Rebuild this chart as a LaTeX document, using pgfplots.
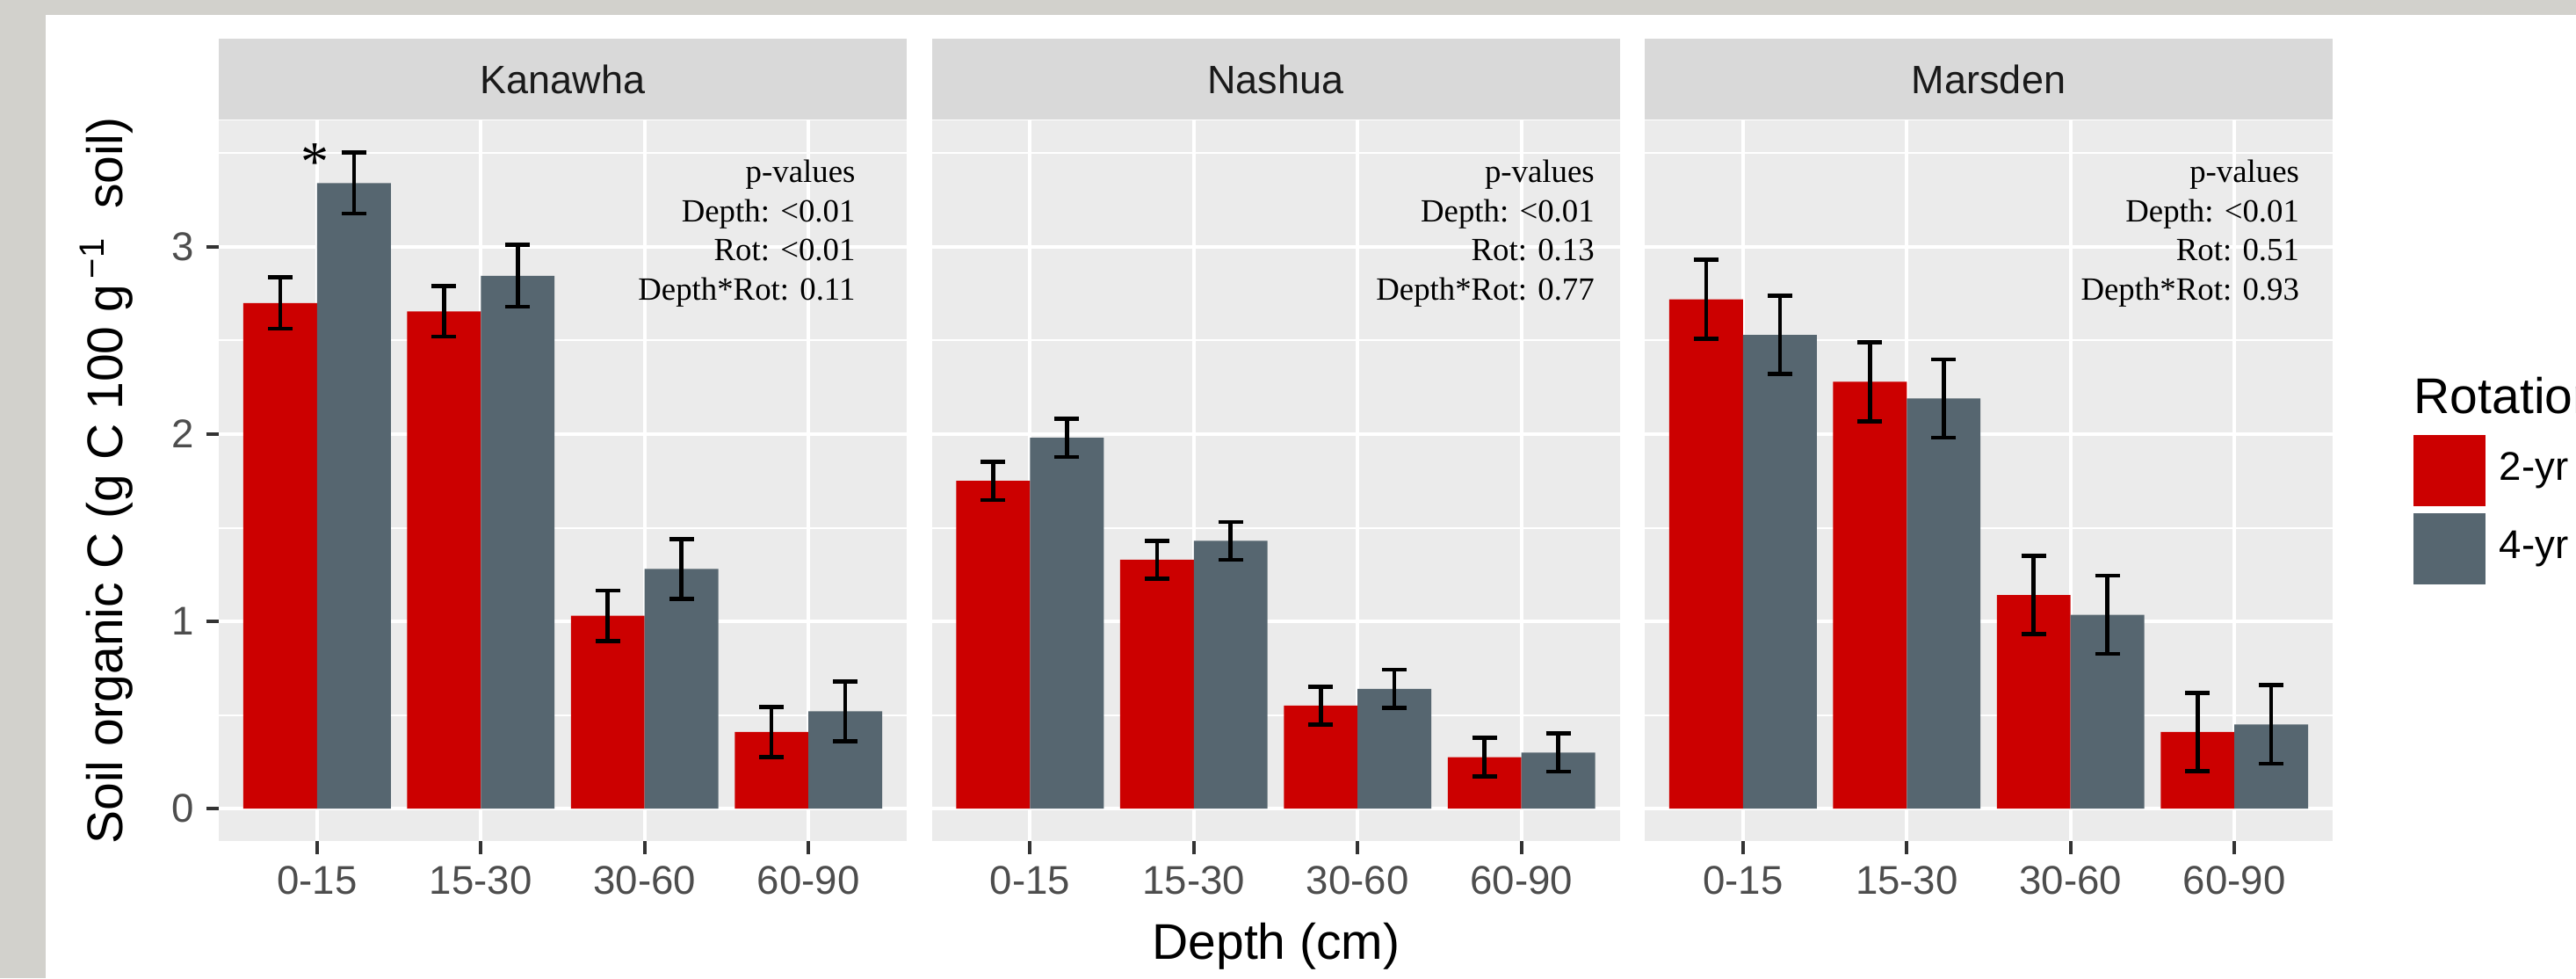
\documentclass[border=0pt]{standalone}
\usepackage{fontspec}
\setmainfont{Liberation Sans}
\newfontfamily\timesfont{Liberation Serif}
\usepackage{pgfplots}
\usepackage{pgfplotstable}
\pgfplotsset{compat=1.18}

\definecolor{outerbg}{RGB}{210,209,204}
\definecolor{panelbg}{RGB}{235,235,235}
\definecolor{stripbg}{RGB}{217,217,217}
\definecolor{redtwo}{RGB}{204,0,0}
\definecolor{grayfour}{RGB}{86,102,112}
\definecolor{tickgray}{RGB}{51,51,51}
\definecolor{labgray}{RGB}{77,77,77}
\definecolor{striptext}{RGB}{26,26,26}

\pgfplotstableread{
d y2 e2 y4 e4
1 2.700 0.137 3.340 0.163
2 2.655 0.135 2.845 0.165
3 1.030 0.135 1.280 0.160
4 0.410 0.134 0.520 0.160
}\kanawha
\pgfplotstableread{
d y2 e2 y4 e4
1 1.750 0.103 1.980 0.102
2 1.330 0.101 1.430 0.101
3 0.550 0.102 0.640 0.102
4 0.275 0.103 0.300 0.102
}\nashua
\pgfplotstableread{
d y2 e2 y4 e4
1 2.720 0.210 2.530 0.210
2 2.280 0.211 2.190 0.209
3 1.140 0.209 1.035 0.209
4 0.410 0.209 0.450 0.209
}\marsden

\pgfplotsset{
  panel/.style={
    scale only axis, width=195.75pt, height=205.125pt,
    anchor=south west, clip=false,
    xmin=0.4, xmax=4.6, ymin=-0.175, ymax=3.675,
    axis background/.style={fill=panelbg},
    axis line style={draw=none},
    xtick={1,2,3,4}, xticklabels={0-15,15-30,30-60,60-90},
    ytick={0,1,2,3}, yticklabels={0,1,2,3},
    minor ytick={0.5,1.5,2.5,3.5},
    xmajorgrids, ymajorgrids, yminorgrids,
    major grid style={white, line width=1.05pt},
    minor grid style={white, line width=0.5pt},
    tick align=outside, xtick pos=left, ytick pos=left,
    major tick length=3.6pt, minor tick length=0pt,
    tick style={tickgray, line width=1pt},
    /pgf/number format/assume math mode=true,
    ticklabel style={font=\fontsize{11.4}{13.7}\selectfont, text=labgray},
  },
  bars/.style={ybar, bar width=0.45, bar shift=0pt, draw=none,
    error bars/y dir=both, error bars/y explicit,
    error bars/error bar style={line width=1.15pt, draw=black},
    error bars/error mark options={rotate=90, line width=1.15pt, mark size=3.5pt, draw=black}},
}

\newcommand{\strip}[1]{\node[anchor=south, fill=stripbg, minimum width=195.75pt, minimum height=23pt, inner sep=0pt, text=striptext, font=\fontsize{11.25}{13.5}\selectfont] at (rel axis cs:0.5,1) {#1};}
\newcommand{\pvals}[3]{%
  \node[anchor=base east, inner sep=0pt, font=\timesfont\fontsize{9.2}{11}\selectfont] at (axis cs:#1,3.344) {p-values};
  \node[anchor=base east, inner sep=0pt, font=\timesfont\fontsize{9.2}{11}\selectfont] at (axis cs:#1,3.133) {Depth: <0.01};
  \node[anchor=base east, inner sep=0pt, font=\timesfont\fontsize{9.2}{11}\selectfont] at (axis cs:#1,2.927) {Rot: #2};
  \node[anchor=base east, inner sep=0pt, font=\timesfont\fontsize{9.2}{11}\selectfont] at (axis cs:#1,2.717) {Depth*Rot: #3};}

\begin{document}
\begin{tikzpicture}
\fill[outerbg] (0,0) rectangle (733pt,278.25pt);
\fill[white] (13pt,0) rectangle (733pt,274pt);

% Kanawha
\begin{axis}[panel, at={(62.25pt,38.875pt)}]
\addplot[bars, fill=redtwo] table[x expr=\thisrow{d}-0.225, y=y2, y error=e2] {\kanawha};
\addplot[bars, fill=grayfour] table[x expr=\thisrow{d}+0.225, y=y4, y error=e4] {\kanawha};
\strip{Kanawha}
\pvals{4.29}{<0.01}{0.11}
\node[font=\timesfont\fontsize{16}{18}\selectfont, inner sep=0pt] at (axis cs:0.985,3.45) {*};
\end{axis}

% Nashua
\begin{axis}[panel, at={(265.125pt,38.875pt)}, yticklabels={}, every major y tick/.append style={draw=none}]
\addplot[bars, fill=redtwo] table[x expr=\thisrow{d}-0.225, y=y2, y error=e2] {\nashua};
\addplot[bars, fill=grayfour] table[x expr=\thisrow{d}+0.225, y=y4, y error=e4] {\nashua};
\strip{Nashua}
\pvals{4.45}{0.13}{0.77}
\end{axis}

% Marsden
\begin{axis}[panel, at={(468pt,38.875pt)}, yticklabels={}, every major y tick/.append style={draw=none}]
\addplot[bars, fill=redtwo] table[x expr=\thisrow{d}-0.225, y=y2, y error=e2] {\marsden};
\addplot[bars, fill=grayfour] table[x expr=\thisrow{d}+0.225, y=y4, y error=e4] {\marsden};
\strip{Marsden}
\pvals{4.40}{0.51}{0.93}
\end{axis}

% axis titles
\node[rotate=90, inner sep=0pt, font=\fontsize{14.25}{17}\selectfont] at (30.25pt,141.5pt) {Soil organic C (g C 100 g\textsuperscript{\,−1}\ \ soil)};
\node[inner sep=0pt, font=\fontsize{14.25}{17}\selectfont] at (363.1pt,9pt) {Depth (cm)};

% legend
\node[overlay, anchor=base west, font=\fontsize{14.25}{17}\selectfont, inner sep=0pt] at (686.75pt,160.5pt) {Rotation};
\fill[redtwo] (686.75pt,134.25pt) rectangle (707.25pt,154.5pt);
\fill[grayfour] (686.75pt,112pt) rectangle (707.25pt,132.25pt);
\node[anchor=west, font=\fontsize{11.4}{13.7}\selectfont, inner sep=0pt] at (711pt,144.4pt) {2-yr};
\node[anchor=west, font=\fontsize{11.4}{13.7}\selectfont, inner sep=0pt] at (711pt,122.1pt) {4-yr};
\end{tikzpicture}
\end{document}
